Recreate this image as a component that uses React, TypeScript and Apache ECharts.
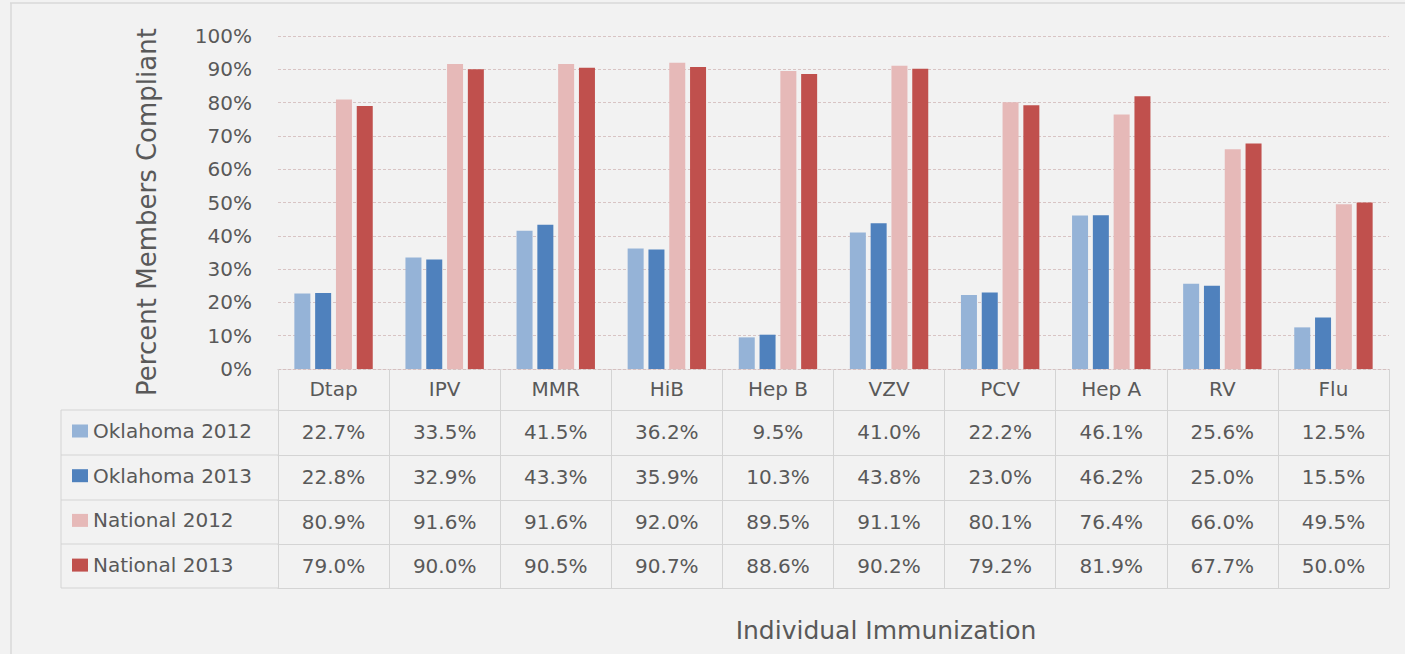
import React, { useEffect, useRef } from "react";
import * as echarts from "echarts";

const categories = ["Dtap", "IPV", "MMR", "HiB", "Hep B", "VZV", "PCV", "Hep A", "RV", "Flu"];
const seriesNames = ["Oklahoma 2012", "Oklahoma 2013", "National 2012", "National 2013"];
const oklahoma2012 = [22.7, 33.5, 41.5, 36.2, 9.5, 41.0, 22.2, 46.1, 25.6, 12.5];
const oklahoma2013 = [22.8, 32.9, 43.3, 35.9, 10.3, 43.8, 23.0, 46.2, 25.0, 15.5];
const national2012 = [80.9, 91.6, 91.6, 92.0, 89.5, 91.1, 80.1, 76.4, 66.0, 49.5];
const national2013 = [79.0, 90.0, 90.5, 90.7, 88.6, 90.2, 79.2, 81.9, 67.7, 50.0];
const seriesColors = ["#95b3d7", "#4f81bd", "#e6b9b8", "#c0504d"];
const yTicks = [0, 10, 20, 30, 40, 50, 60, 70, 80, 90, 100];

const allSeries = [oklahoma2012, oklahoma2013, national2012, national2013];

const FONT = "'DejaVu Sans', 'Open Sans', sans-serif";
const TEXT = "#595959";
const TABLE_LINE = "#d4d4d4";
const FS = 20;

export default function App() {
  const ref = useRef<HTMLDivElement>(null);
  useEffect(() => {
    if (!ref.current) return;
    const chart = echarts.init(ref.current, null, { renderer: "svg" });
    const gridLeft = 278;
    const gridRight = 1389;
    const rowTops = [369, 410, 455, 500, 544, 588];

    const tableAxes: any[] = [];
    tableAxes.push({
      type: "category",
      gridIndex: 0,
      position: "bottom",
      offset: 0,
      data: categories,
      axisLine: { show: true, lineStyle: { color: "#d5c0c0", type: [3, 2], width: 1 } },
      axisTick: { show: true, length: rowTops[1] - rowTops[0], lineStyle: { color: TABLE_LINE } },
      axisLabel: { color: TEXT, fontSize: FS, fontFamily: FONT, margin: 10, interval: 0 },
    });
    allSeries.forEach((arr, i) => {
      tableAxes.push({
        type: "category",
        gridIndex: 0,
        position: "bottom",
        offset: rowTops[i + 1] - rowTops[0],
        data: categories,
        axisLine: { show: true, lineStyle: { color: TABLE_LINE, width: 1 } },
        axisTick: { show: true, length: rowTops[i + 2] - rowTops[i + 1], lineStyle: { color: TABLE_LINE } },
        axisLabel: {
          color: TEXT,
          fontSize: FS,
          fontFamily: FONT,
          margin: 12,
          interval: 0,
          formatter: (_v: string, idx: number) => arr[idx].toFixed(1) + "%",
        },
      });
    });
    tableAxes.push({
      type: "category",
      gridIndex: 0,
      position: "bottom",
      offset: rowTops[5] - rowTops[0],
      data: categories,
      axisLine: { show: true, lineStyle: { color: TABLE_LINE, width: 1 } },
      axisTick: { show: false },
      axisLabel: { show: false },
    });

    const leftLines: any[] = [];
    for (let i = 1; i < rowTops.length; i++) {
      leftLines.push({
        type: "line",
        shape: { x1: 61, y1: rowTops[i], x2: gridLeft, y2: rowTops[i] },
        style: { stroke: TABLE_LINE, lineWidth: 1 },
      });
    }
    leftLines.push({
      type: "line",
      shape: { x1: 61, y1: rowTops[1], x2: 61, y2: rowTops[5] },
      style: { stroke: TABLE_LINE, lineWidth: 1 },
    });

    chart.setOption({
      animation: false,
      backgroundColor: "#f2f2f2",
      textStyle: { fontFamily: FONT },
      grid: { left: gridLeft, right: 1405 - gridRight, top: 36, bottom: 654 - 369, containLabel: false },
      legend: {
        orient: "vertical",
        left: 72,
        top: 420,
        padding: 0,
        itemWidth: 16,
        itemHeight: 13,
        itemGap: 22.7,
        icon: "rect",
        data: seriesNames,
        textStyle: { color: TEXT, fontSize: FS, fontFamily: FONT, lineHeight: 22 },
        selectedMode: false,
      },
      xAxis: tableAxes,
      yAxis: {
        type: "value",
        min: 0,
        max: 100,
        interval: 10,
        axisLine: { show: false },
        axisTick: { show: false },
        axisLabel: {
          color: TEXT,
          fontSize: FS,
          fontFamily: FONT,
          margin: 26,
          formatter: (v: number) => (yTicks.includes(v) ? v + "%" : ""),
        },
        splitLine: { lineStyle: { color: "#d8c4c4", type: [3, 2], width: 1 } },
      },
      series: allSeries.map((arr, i) => ({
        name: seriesNames[i],
        type: "bar",
        xAxisIndex: 0,
        data: arr,
        barWidth: 16,
        barGap: "30%",
        itemStyle: { color: seriesColors[i] },
      })),
      graphic: [
        {
          type: "line",
          shape: { x1: 10, y1: 3, x2: 1405, y2: 3 },
          style: { stroke: "#d9d9d9", lineWidth: 1.5 },
        },
        {
          type: "line",
          shape: { x1: 11, y1: 3, x2: 11, y2: 654 },
          style: { stroke: "#d9d9d9", lineWidth: 1.5 },
        },
        ...leftLines,
        {
          type: "text",
          x: 147,
          y: 212,
          rotation: Math.PI / 2,
          style: {
            text: "Percent Members Compliant",
            fill: TEXT,
            fontSize: 26,
            fontFamily: FONT,
            textAlign: "center",
            textVerticalAlign: "middle",
          },
        },
        {
          type: "text",
          x: 886,
          y: 630,
          style: {
            text: "Individual Immunization",
            fill: TEXT,
            fontSize: 25,
            fontFamily: FONT,
            textAlign: "center",
            textVerticalAlign: "middle",
          },
        },
      ],
    });
    return () => chart.dispose();
  }, []);
  return (
    <div
      ref={ref}
      style={{ position: "fixed", left: 0, top: 0, width: 1405, height: 654 }}
    />
  );
}
